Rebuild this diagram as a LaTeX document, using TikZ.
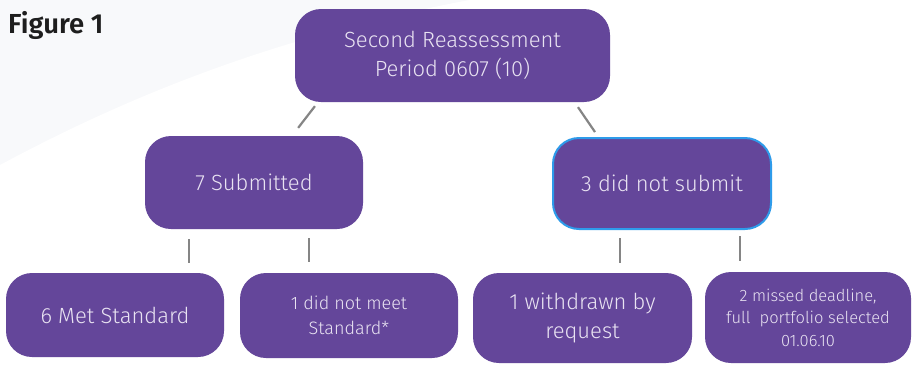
\documentclass[tikz,border=0pt]{standalone}
\usepackage{fontspec}
\setmainfont{Fira Sans}[UprightFont={* Light}, BoldFont={* SemiBold}]
\usetikzlibrary{calc}
\definecolor{boxpurple}{HTML}{64469A}
\definecolor{boxtext}{HTML}{E9E3F2}
\definecolor{boxblue}{HTML}{2E9BEA}
\definecolor{linegray}{HTML}{858585}
\definecolor{swoosh}{HTML}{F8F9FB}
\definecolor{figtext}{HTML}{1E1E1E}
\tikzset{
  box/.style={rounded corners=26pt, fill=boxpurple, text=boxtext, align=center,
    inner sep=0pt, minimum width=#1},
  conn/.style={draw=linegray, line width=2.2pt},
}
\begin{document}
\begin{tikzpicture}[x=1pt,y=-1pt]
\useasboundingbox (0,0) rectangle (912,365);
\fill[white] (0,0) rectangle (912,365);
% faint background swoosh
\fill[swoosh] (0,190) .. controls (120,110) and (260,40) .. (470,0) -- (0,0) -- cycle;
\fill[white] (0,215) .. controls (140,120) and (300,45) .. (520,0) -- (470,0) .. controls (280,35) and (130,95) .. (0,165) -- cycle;
\node[font=\bfseries\fontsize{27.5}{32}\selectfont, text=figtext, anchor=base west, inner sep=0pt] (fig) at (8,33) {Figure 1};

\node[box, minimum width=315pt, minimum height=93pt, font=\fontsize{22}{29}\selectfont] (top) at (452.5,55.5) {Second Reassessment\\Period 0607 (10)};
\node[box, minimum width=218pt, minimum height=93pt, font=\fontsize{22}{29}\selectfont] (sub) at (254,182.5) {7 Submitted};
\node[box, minimum width=218pt, minimum height=91pt, draw=boxblue, line width=2pt, font=\fontsize{22}{29}\selectfont] (notsub) at (662,183.5) {3 did not submit};
\node[box, minimum width=218pt, minimum height=84pt, font=\fontsize{22}{29}\selectfont] (met) at (115,315) {6 Met Standard};
\node[box, minimum width=218pt, minimum height=85pt, font=\fontsize{18}{25}\selectfont] (notmet) at (349,315.5) {1 did not meet\\Standard*};
\node[box, minimum width=219pt, minimum height=90pt, font=\fontsize{22}{29}\selectfont] (wd) at (582.5,318) {1 withdrawn by\\request};
\node[box, minimum width=206pt, minimum height=91pt, font=\fontsize{16.5}{22.5}\selectfont] (missed) at (808,317.5) {2 missed deadline,\\full\ \ portfolio selected\\01.06.10};

% connectors
\draw[conn, shorten <=5pt, shorten >=10pt] (top.south -| 318,0) -- (sub.north -| 292,0);
\draw[conn, shorten <=6pt, shorten >=6pt] (top.south -| 574.6,0) -- (notsub.north -| 598.4,0);
\draw[conn, shorten <=10pt, shorten >=10pt] (sub.south -| 189,0) -- (met.north -| 189,0);
\draw[conn, shorten <=9pt, shorten >=11pt] (sub.south -| 309,0) -- (notmet.north -| 309,0);
\draw[conn, shorten <=8pt, shorten >=10pt] (notsub.south -| 620,0) -- (wd.north -| 620,0);
\draw[conn, shorten <=6pt, shorten >=11pt] (notsub.south -| 740,0) -- (missed.north -| 740,0);
\end{tikzpicture}
\end{document}
